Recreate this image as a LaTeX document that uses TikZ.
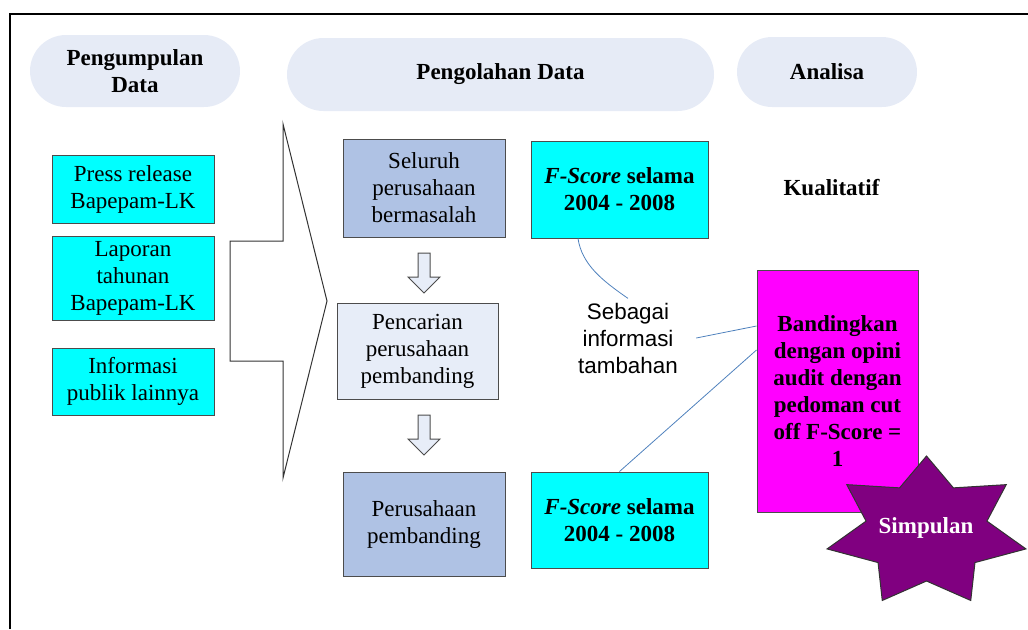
\documentclass[tikz,border=0pt]{standalone}
\usepackage{fontspec}
\setmainfont{Liberation Serif}
\newfontfamily\arialfont{Liberation Sans}
\usetikzlibrary{shapes.misc}
\definecolor{pillblue}{RGB}{230,235,246}
\definecolor{boxsteel}{RGB}{175,194,228}
\definecolor{boxpale}{RGB}{231,237,248}
\definecolor{boxcyan}{RGB}{0,255,255}
\definecolor{boxmagenta}{RGB}{255,0,255}
\definecolor{linkblue}{RGB}{79,129,189}
\definecolor{simpurple}{RGB}{128,0,128}
\newcommand{\bodyfont}{\fontsize{11.5}{13.5}\selectfont}
\newcommand{\hollowdown}[2]{% x, y of shaft top (px), 40 px long
  \draw[fill=boxpale,draw=black!70,line width=0.5pt] (#1-6,#2) -- (#1+6,#2) -- (#1+6,#2+24)
    -- (#1+16,#2+24) -- (#1,#2+40) -- (#1-16,#2+24) -- (#1-6,#2+24) -- cycle;}

\begin{document}
\begin{tikzpicture}[x=0.5pt,y=-0.5pt,
  pill/.style={rounded rectangle,fill=pillblue,inner sep=0,align=center,font=\bodyfont\bfseries},
  box/.style={draw=black!70,line width=0.5pt,inner sep=0,align=center,font=\bodyfont},
  srcbox/.style={box,fill=boxcyan,minimum width=81pt},
  stepbox/.style={box,minimum width=81pt},
  scorebox/.style={box,fill=boxcyan,minimum width=88.5pt,minimum height=48pt,font=\bodyfont\bfseries},
  link/.style={draw=linkblue,line width=0.4pt}]
  \useasboundingbox (0,0) rectangle (1028,629);
  % ---- frame ----
  \draw[line width=0.8pt] (10,629) -- (10,14) -- (1028,14);
  % ---- column heads ----
  \node[pill,minimum width=105pt,minimum height=36pt] (kumpul) at (135,71) {Pengumpulan\\Data};
  \node[pill,minimum width=213.5pt,minimum height=36.5pt] (olah) at (500.5,74.5) {Pengolahan Data};
  \node[pill,minimum width=90pt,minimum height=35pt] (analisa) at (827,72) {Analisa};
  \node[pill,fill=white,minimum width=68.5pt,minimum height=20pt] (kual) at (831.5,188) {Kualitatif};
  % ---- data sources ----
  \node[srcbox,minimum height=34pt] (press) at (133,189) {Press release\\Bapepam-LK};
  \node[srcbox,minimum height=42pt] (lapor) at (133,278) {Laporan\\tahunan\\Bapepam-LK};
  \node[srcbox,minimum height=33.5pt] (info) at (133,381.5) {Informasi\\publik lainnya};
  % big arrow into processing
  \draw[fill=white,draw=black!80,line width=0.5pt] (283,124) -- (327,301) -- (283,478)
    -- (283,361) -- (230,361) -- (230,241) -- (283,241) -- cycle;
  % ---- processing column ----
  \node[stepbox,fill=boxsteel,minimum height=49pt] (seluruh) at (424,188) {Seluruh\\perusahaan\\bermasalah};
  \hollowdown{424}{253}
  \node[stepbox,fill=boxpale,minimum width=80.5pt,minimum height=48pt] (cari) at (417.5,351) {Pencarian\\perusahaan\\pembanding};
  \hollowdown{424}{415}
  \node[stepbox,fill=boxsteel,minimum height=52pt] (banding) at (424,524) {Perusahaan\\pembanding};
  % F-Score boxes
  \node[scorebox,minimum height=48.5pt] (fa) at (619.5,189.5) {\textit{F-Score} selama\\2004 - 2008};
  \node[scorebox] (fb) at (619.5,520) {\textit{F-Score} selama\\2004 - 2008};
  \node[fill=white,rounded corners=12pt,inner xsep=9pt,inner ysep=2pt,align=center,
    font=\arialfont\fontsize{11.2}{13.5}\selectfont] (seb) at (628,338) {Sebagai\\informasi\\tambahan};
  % ---- analysis ----
  \node[box,fill=boxmagenta,minimum width=80.5pt,minimum height=121pt,font=\bodyfont\bfseries] (bd) at (837.5,391)
    {Bandingkan\\dengan opini\\audit dengan\\pedoman cut\\off F-Score =\\1};
  \begin{scope}[shift={(926.5,532)}]
    \draw[fill=simpurple,draw=black!80,line width=0.5pt] (-90:102 and 76)
      \foreach \k in {0,...,6} { -- ({-90+\k*360/7+360/14}:62 and 49) -- ({-90+(\k+1)*360/7}:102 and 76)} -- cycle;
  \end{scope}
  \node[font=\bodyfont\bfseries,text=white] (simpul) at (926,528) {Simpulan};
  % ---- links ----
  \draw[link] ([xshift=-20.75pt]fa.south) .. controls +(4,26) and +(-26,-18) .. (seb.north);
  \draw[link] (seb.east) -- ([yshift=32.5pt]bd.west);
  \draw[link] ([yshift=20.5pt]bd.west) -- (fb.north);
\end{tikzpicture}
\end{document}
